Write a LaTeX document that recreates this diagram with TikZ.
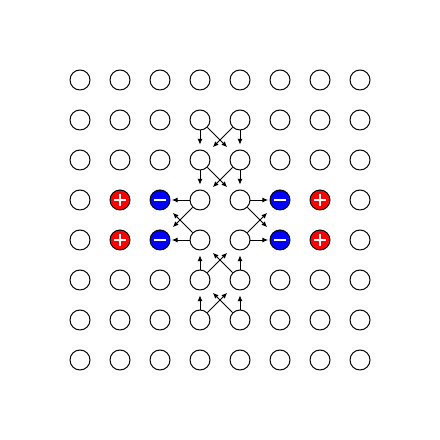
\documentclass[tikz,border=0pt]{standalone}
\usetikzlibrary{arrows.meta}

\begin{document}
\begin{tikzpicture}[
  site/.style={draw, circle, minimum size=0.5cm, inner sep=0pt, line width=0.7pt},
  plussite/.style={site, fill=red},
  minussite/.style={site, fill=blue},
  arr/.style={-{Latex[length=4pt,width=3.5pt]}, line width=0.6pt},
  vert/.style={arr, shorten >=3.5pt},
  diag/.style={arr, shorten >=5.5pt},
  horiz/.style={arr, shorten >=1pt},
  sign/.style={white, line width=1.1pt}
]
  \useasboundingbox (0,0) rectangle (11,11);

  % lattice sites, charged ones in rows 4 and 5
  \foreach \i in {1,...,8}
    \foreach \j in {1,...,8}{
      \def\kind{site}
      \ifnum\j>3 \ifnum\j<6
        \ifnum\i=2 \def\kind{plussite}\fi
        \ifnum\i=7 \def\kind{plussite}\fi
        \ifnum\i=3 \def\kind{minussite}\fi
        \ifnum\i=6 \def\kind{minussite}\fi
      \fi\fi
      \node[\kind] (c-\i-\j) at (\i+1,10-\j) {};
    }

  % signs
  \foreach \j in {4,5}{
    \foreach \i in {2,7}
      \draw[sign] (c-\i-\j.center) ++(-0.15,0) -- ++(0.3,0)
                  (c-\i-\j.center) ++(0,-0.15) -- ++(0,0.3);
    \foreach \i in {3,6}
      \draw[sign] (c-\i-\j.center) ++(-0.15,0) -- ++(0.3,0);
  }

  % flow from the top
  \foreach \j/\k in {2/3,3/4}{
    \draw[vert] (c-4-\j) -- (c-4-\k);
    \draw[vert] (c-5-\j) -- (c-5-\k);
    \draw[diag] (c-4-\j) -- (c-5-\k);
    \draw[diag] (c-5-\j) -- (c-4-\k);
  }
  % flow from the bottom
  \foreach \j/\k in {7/6,6/5}{
    \draw[vert] (c-4-\j) -- (c-4-\k);
    \draw[vert] (c-5-\j) -- (c-5-\k);
    \draw[diag] (c-4-\j) -- (c-5-\k);
    \draw[diag] (c-5-\j) -- (c-4-\k);
  }
  % out to the sides
  \foreach \j in {4,5}{
    \draw[horiz] (c-4-\j) -- (c-3-\j);
    \draw[horiz] (c-5-\j) -- (c-6-\j);
  }
  \draw[diag] (c-4-4) -- (c-3-5);
  \draw[diag] (c-4-5) -- (c-3-4);
  \draw[diag] (c-5-4) -- (c-6-5);
  \draw[diag] (c-5-5) -- (c-6-4);
\end{tikzpicture}
\end{document}
